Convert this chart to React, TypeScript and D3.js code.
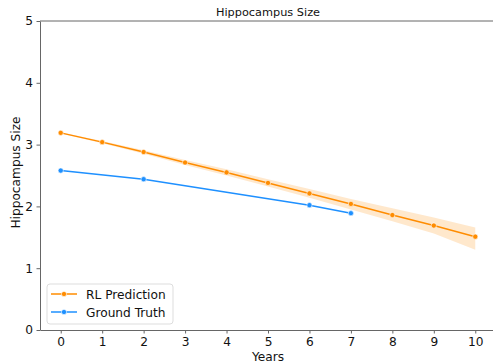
import { useRef, useEffect } from "react";
import * as d3 from "d3";

// Years on x axis
const predYears = [0, 1, 2, 3, 4, 5, 6, 7, 8, 9, 10];
const predValues = [3.19, 3.04, 2.88, 2.71, 2.55, 2.38, 2.21, 2.04, 1.86, 1.69, 1.51];
const predUpper = [3.2, 3.06, 2.91, 2.75, 2.6, 2.44, 2.28, 2.12, 1.97, 1.82, 1.66];
const predLower = [3.18, 3.02, 2.85, 2.67, 2.5, 2.32, 2.14, 1.95, 1.76, 1.56, 1.3];

const truthYears = [0, 2, 6, 7];
const truthValues = [2.58, 2.44, 2.02, 1.89];

const xTicks = [0, 1, 2, 3, 4, 5, 6, 7, 8, 9, 10];
const yTicks = [0, 1, 2, 3, 4, 5];

const ORANGE = "#ff8c00";
const BLUE = "#1e90ff";
const FONT = "DejaVu Sans, sans-serif";
const INK = "#111";

export default function App() {
  const svgRef = useRef<SVGSVGElement>(null);

  useEffect(() => {
    if (!svgRef.current) return;
    const svg = d3.select(svgRef.current);
    svg.selectAll("*").remove();

    const left = 40;
    const right = 496;
    const top = 21;
    const bottom = 330;

    const x = d3.scaleLinear().domain([-0.5, 10.5]).range([left, right]);
    const y = d3.scaleLinear().domain([0, 5]).range([bottom, top]);

    // Confidence band
    const band = d3
      .area<number>()
      .x((_, i) => x(predYears[i]))
      .y0((_, i) => y(predLower[i]))
      .y1((_, i) => y(predUpper[i]));
    svg
      .append("path")
      .datum(predYears)
      .attr("fill", ORANGE)
      .attr("fill-opacity", 0.2)
      .attr("d", band);

    const line = d3
      .line<[number, number]>()
      .x((d) => x(d[0]))
      .y((d) => y(d[1]));

    const series = [
      { pts: predYears.map((v, i) => [v, predValues[i]] as [number, number]), color: ORANGE },
      { pts: truthYears.map((v, i) => [v, truthValues[i]] as [number, number]), color: BLUE },
    ];

    series.forEach((s) => {
      svg
        .append("path")
        .datum(s.pts)
        .attr("fill", "none")
        .attr("stroke", s.color)
        .attr("stroke-width", 1.5)
        .attr("d", line);
      svg
        .append("g")
        .selectAll("circle")
        .data(s.pts)
        .enter()
        .append("circle")
        .attr("cx", (d) => x(d[0]))
        .attr("cy", (d) => y(d[1]))
        .attr("r", 2.6)
        .attr("fill", s.color)
        .attr("stroke", "white")
        .attr("stroke-width", 0.6);
    });

    // Axes
    const xAxis = svg
      .append("g")
      .attr("transform", `translate(0,${bottom})`)
      .call(d3.axisBottom(x).tickValues(xTicks).tickSize(3.5).tickPadding(3.5).tickSizeOuter(0));
    const yAxis = svg
      .append("g")
      .attr("transform", `translate(${left},0)`)
      .call(
        d3
          .axisLeft(y)
          .tickValues(yTicks)
          .tickFormat(d3.format("d"))
          .tickSize(3.5)
          .tickPadding(3.5)
          .tickSizeOuter(0)
      );

    [xAxis, yAxis].forEach((a) => {
      a.selectAll(".domain").attr("stroke", "#666").attr("stroke-width", 1);
      a.selectAll(".tick line").attr("stroke", "#666");
      a.selectAll("text")
        .attr("fill", INK)
        .attr("font-size", "12.2px")
        .attr("font-family", FONT);
    });

    // Top & right spines
    svg
      .append("line")
      .attr("x1", left)
      .attr("x2", right)
      .attr("y1", top)
      .attr("y2", top)
      .attr("stroke", "#666");
    svg
      .append("line")
      .attr("x1", right)
      .attr("x2", right)
      .attr("y1", top)
      .attr("y2", bottom)
      .attr("stroke", "#666");

    // Title & labels
    svg
      .append("text")
      .attr("x", (left + right) / 2)
      .attr("y", 16)
      .attr("text-anchor", "middle")
      .attr("font-size", "11.3px")
      .attr("font-family", FONT)
      .attr("fill", INK)
      .text("Hippocampus Size");

    svg
      .append("text")
      .attr("x", (left + right) / 2)
      .attr("y", 361)
      .attr("text-anchor", "middle")
      .attr("font-size", "12.2px")
      .attr("font-family", FONT)
      .attr("fill", INK)
      .text("Years");

    svg
      .append("text")
      .attr("transform", `translate(19.5,${(top + bottom) / 2 - 3}) rotate(-90)`)
      .attr("text-anchor", "middle")
      .attr("font-size", "12.2px")
      .attr("font-family", FONT)
      .attr("fill", INK)
      .text("Hippocampus Size");

    // Legend
    const lg = svg.append("g").attr("transform", "translate(47,284)");
    lg.append("rect")
      .attr("width", 126)
      .attr("height", 40)
      .attr("rx", 3)
      .attr("fill", "white")
      .attr("fill-opacity", 0.8)
      .attr("stroke", "#ddd");
    const items = [
      { label: "RL Prediction", color: ORANGE },
      { label: "Ground Truth", color: BLUE },
    ];
    items.forEach((it, i) => {
      const cy = 10 + i * 18;
      lg.append("line")
        .attr("x1", 4)
        .attr("x2", 30)
        .attr("y1", cy)
        .attr("y2", cy)
        .attr("stroke", it.color)
        .attr("stroke-width", 1.5);
      lg.append("circle")
        .attr("cx", 17)
        .attr("cy", cy)
        .attr("r", 2.6)
        .attr("fill", it.color)
        .attr("stroke", "white")
        .attr("stroke-width", 0.6);
      lg.append("text")
        .attr("x", 39)
        .attr("y", cy + 4.5)
        .attr("font-size", "12.2px")
        .attr("font-family", FONT)
        .attr("fill", INK)
        .text(it.label);
    });
  }, []);

  return (
    <svg
      ref={svgRef}
      width={493}
      height={364}
      style={{ position: "absolute", left: 0, top: 0, background: "white" }}
    />
  );
}
